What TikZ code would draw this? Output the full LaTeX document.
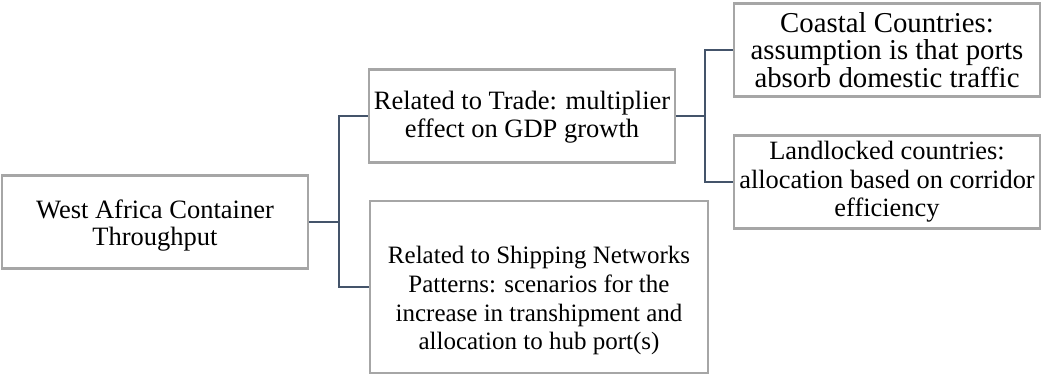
\documentclass[tikz,border=0pt]{standalone}
\usepackage{fontspec}
\setmainfont{Liberation Serif}
\usepackage{tikz}
\usetikzlibrary{calc}
\definecolor{boxgray}{HTML}{A6A6A6}
\definecolor{linkblue}{HTML}{44546A}
\newcommand{\boxfont}[2]{\fontsize{#1}{#2}\selectfont}
\begin{document}
\begin{tikzpicture}[x=0.5pt, y=-0.5pt,
    box/.style={draw=boxgray, line width=1.25pt, align=center, inner sep=2pt,
      minimum width=153pt, minimum height=46.5pt},
    link/.style={draw=linkblue, line width=0.6pt}]
      \useasboundingbox (0,0) rectangle (1042,375);
      \node[box, font=\boxfont{13.25}{13.7}] (root) at (155,222) {\rule{0pt}{12.6pt}West Africa Container\\Throughput};
      \node[box, font=\boxfont{13.25}{13.85}] (trade) at (522,116) {\rule{0pt}{10.2pt}Related to Trade: multiplier\\effect on GDP growth};
      \node[box, font=\boxfont{12.5}{14.45}, minimum width=169pt, minimum height=86pt] (ship) at (539,287)
        {\rule{0pt}{22.3pt}Related to Shipping Networks\\Patterns: scenarios for the\\increase in transhipment and\\allocation to hub port(s)};
      \node[box, font=\boxfont{14.4}{13.75}] (coast) at (887,50) {Coastal Countries:\\assumption is that ports\\absorb domestic traffic};
      \node[box, font=\boxfont{13.2}{14.2}] (land) at (887,182) {Landlocked countries:\\allocation based on corridor\\efficiency};
      \coordinate (j1) at (339,222);
      \coordinate (j2) at (705,116);
      \draw[link] (root.east) -- (j1) |- (trade.west);
      \draw[link] (j1) |- (ship.west);
      \draw[link] (trade.east) -- (j2) |- (coast.west);
      \draw[link] (j2) |- (land.west);
    \end{tikzpicture}
\end{document}
